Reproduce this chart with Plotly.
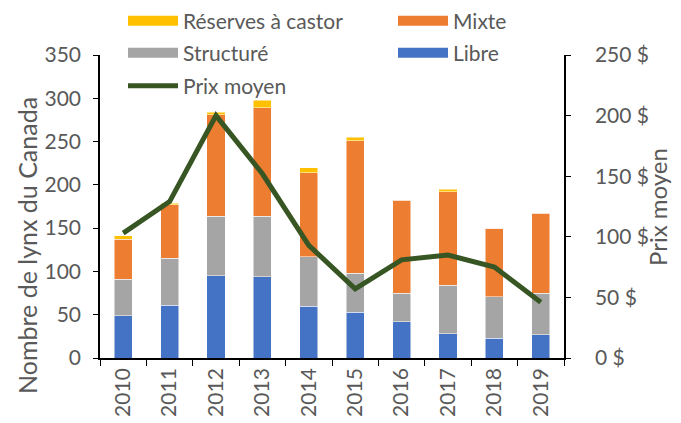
import plotly.graph_objects as go

years = ["2010", "2011", "2012", "2013", "2014", "2015", "2016", "2017", "2018", "2019"]
libre = [49, 61, 95, 94, 60, 53, 42, 28, 23, 27]
structure = [42, 54, 69, 70, 57, 45, 33, 56, 48, 48]
mixte = [46, 62, 117, 125, 97, 153, 107, 108, 79, 92]
castor = [4, 2, 3, 9, 6, 4, 1, 3, 0, 1]
prix = [103, 129, 200, 152, 93, 57, 81, 85, 75, 46]

FONT = "Lato"
GREY = "#595959"
FS = 21
# page has an 8px body margin: figure coordinates = page coordinates - 8
W, H = 673, 415
L, R, T, B = 92, 556, 47, 350

series = [
    ("Libre", libre, "#4472C4", "legend4"),
    ("Structuré", structure, "#A5A5A5", "legend3"),
    ("Mixte", mixte, "#ED7D31", "legend2"),
    ("Réserves à castor", castor, "#FFC000", "legend"),
]

fig = go.Figure()
for name, vals, col, leg in series:
    fig.add_trace(go.Bar(x=years, y=vals, name=name, marker_color=col,
                         marker_line=dict(color="white", width=0.5),
                         legendgroup=name, showlegend=False))
    # wide rectangular legend swatch, linked to the bar series
    fig.add_trace(go.Scatter(x=[None], y=[None], name=name, mode="lines",
                             line=dict(color=col, width=13), legendgroup=name,
                             legend=leg, hoverinfo="skip"))
fig.add_trace(go.Scatter(x=years, y=prix, name="Prix moyen", mode="lines",
                         line=dict(color="#375623", width=5), yaxis="y2", legend="legend5"))

legend_common = dict(orientation="v", xanchor="left", yanchor="middle",
                     font=dict(family=FONT, size=FS, color=GREY),
                     itemwidth=50, bgcolor="rgba(0,0,0,0)")

c1 = 115 / W
c2 = 385 / W
fig.update_layout(
    width=W, height=H, showlegend=True,
    margin=dict(l=0, r=0, t=0, b=0, autoexpand=False),
    plot_bgcolor="white", paper_bgcolor="white",
    barmode="stack", bargap=0.61,
    font=dict(family=FONT, size=FS, color=GREY),
    xaxis=dict(type="category", domain=[L / W, R / W], automargin=False,
               showline=True, linecolor="black", linewidth=1.5,
               ticks="outside", tickson="boundaries", ticklen=6, tickcolor="black",
               tickangle=-90, tickfont=dict(family=FONT, size=FS, color=GREY),
               showgrid=False),
    yaxis=dict(range=[0, 350], dtick=50, domain=[1 - B / H, 1 - T / H], automargin=False,
               showline=True, linecolor="black", linewidth=1.5,
               ticks="outside", ticklen=5, tickcolor="black", showgrid=False,
               ticklabelstandoff=8,
               zeroline=False, tickfont=dict(family=FONT, size=FS, color=GREY)),
    yaxis2=dict(range=[0, 250], dtick=50, overlaying="y", side="right", showline=True,
                automargin=False,
                linecolor="black", linewidth=1.5, ticks="outside", ticklen=5,
                tickcolor="black", showgrid=False, zeroline=False, ticksuffix=" $",
                ticklabelstandoff=20,
                tickfont=dict(family=FONT, size=FS, color=GREY)),
    legend=dict(x=c1, y=1 - 13 / H, **legend_common),
    legend2=dict(x=c2, y=1 - 13 / H, **legend_common),
    legend3=dict(x=c1, y=1 - 45 / H, **legend_common),
    legend4=dict(x=c2, y=1 - 45 / H, **legend_common),
    legend5=dict(x=c1, y=1 - 78 / H, **legend_common),
    annotations=[
        dict(text="Nombre de lynx du Canada", textangle=-90, showarrow=False,
             xref="paper", yref="paper", x=19 / W, y=1 - 238 / H,
             xanchor="center", yanchor="middle",
             font=dict(family=FONT, size=25, color=GREY)),
        dict(text="Prix moyen", textangle=-90, showarrow=False,
             xref="paper", yref="paper", x=650 / W, y=1 - 199 / H,
             xanchor="center", yanchor="middle",
             font=dict(family=FONT, size=24, color=GREY)),
    ],
)

fig.write_html("out.html")
